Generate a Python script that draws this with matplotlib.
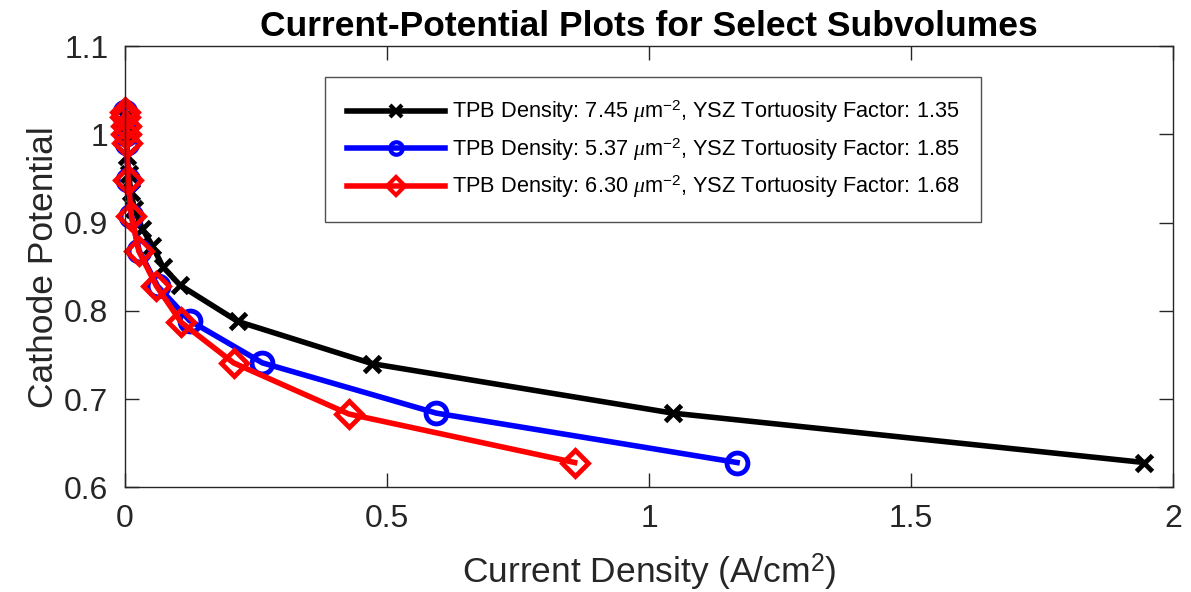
import numpy as np
import matplotlib.pyplot as plt

plt.rcParams['font.family'] = ['Liberation Sans', 'DejaVu Sans']
plt.rcParams['mathtext.fontset'] = 'custom'
plt.rcParams['mathtext.it'] = 'Liberation Serif:italic'
plt.rcParams['mathtext.rm'] = 'Liberation Sans'

# current density (A/cm^2) vs cathode potential for three subvolumes
x_black = [0.0005, 0.002, 0.004, 0.007, 0.011, 0.018, 0.033, 0.052, 0.072,
           0.105, 0.215, 0.472, 1.045, 1.945]
y_black = [1.02, 1.0, 0.975, 0.955, 0.935, 0.915, 0.893, 0.874, 0.85,
           0.829, 0.788, 0.740, 0.684, 0.628]

x_blue = [0.0, 0.0005, 0.001, 0.002, 0.003, 0.006, 0.012, 0.027, 0.062,
          0.123, 0.262, 0.594, 1.168]
y_blue = [1.025, 1.02, 1.01, 1.0, 0.99, 0.948, 0.908, 0.868, 0.828,
          0.789, 0.741, 0.684, 0.628]

x_red = [0.0, 0.0005, 0.001, 0.002, 0.003, 0.006, 0.012, 0.026, 0.06,
         0.107, 0.207, 0.427, 0.858]
y_red = [1.025, 1.02, 1.01, 1.0, 0.99, 0.948, 0.908, 0.868, 0.828,
         0.787, 0.741, 0.683, 0.628]

labels = [r'TPB Density: 7.45 $\mathit{\mu}$m$^{-2}$, YSZ Tortuosity Factor: 1.35',
          r'TPB Density: 5.37 $\mathit{\mu}$m$^{-2}$, YSZ Tortuosity Factor: 1.85',
          r'TPB Density: 6.30 $\mathit{\mu}$m$^{-2}$, YSZ Tortuosity Factor: 1.68']

fig = plt.figure(figsize=(11.91, 5.92), dpi=100)
ax = fig.add_axes([0.105, 0.177, 0.880, 0.745])

ax.plot(x_black, y_black, 'k-x', lw=4, ms=12, mew=3.5, label=labels[0],
        clip_on=False)
ax.plot(x_blue, y_blue, '-o', color='#0000ff', lw=4, ms=15, mew=3.5,
        mfc='none', label=labels[1], clip_on=False)
ax.plot(x_red, y_red, '-D', color='#ff0000', lw=4, ms=13, mew=3.5,
        mfc='none', label=labels[2], clip_on=False)

ax.set_xlim(0, 2)
ax.set_ylim(0.6, 1.1)
ax.set_xticks([0, 0.5, 1, 1.5, 2])
ax.set_xticklabels(['0', '0.5', '1', '1.5', '2'])
ax.set_yticks([0.6, 0.7, 0.8, 0.9, 1.0, 1.1])
ax.set_yticklabels(['0.6', '0.7', '0.8', '0.9', '1', '1.1'])
ax.tick_params(direction='in', top=True, right=True, length=10, width=1,
               labelsize=23, colors='#262626', pad=12)
for s in ax.spines.values():
    s.set_color('#262626')
    s.set_linewidth(1)

ax.set_xlabel('Current Density (A/cm$^2$)', fontsize=25.5, color='#262626',
              labelpad=13)
ax.set_ylabel('Cathode Potential', fontsize=25.5, color='#262626',
              labelpad=3)
ax.set_title('Current-Potential Plots for Select Subvolumes', fontsize=25.5,
             fontweight='bold', pad=7)

leg = ax.legend(loc='upper left', bbox_to_anchor=(0.191, 0.93),
                borderaxespad=0, fontsize=15.7, frameon=True, fancybox=False,
                handlelength=4.5, borderpad=1.0, labelspacing=0.5,
                handletextpad=0.3)
leg.get_frame().set_edgecolor('#262626')
leg.get_frame().set_linewidth(1)
for h in leg.legend_handles:
    h.set_markersize(9)
    h.set_markeredgewidth(3)

fig.savefig('out.png', dpi=100)
